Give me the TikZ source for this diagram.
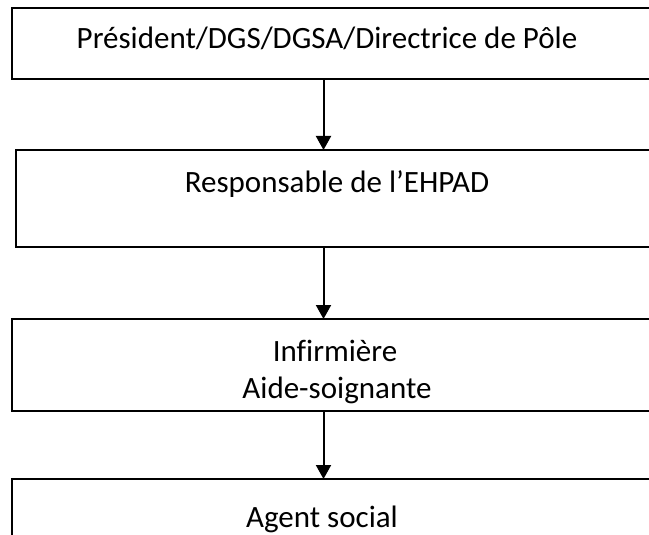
\documentclass[tikz,border=0pt]{standalone}
\usepackage{fontspec}
\setmainfont{Carlito}[Ligatures={NoCommon}]
\usetikzlibrary{arrows.meta}
\tikzset{
  box/.style={draw=black, line width=2pt, rectangle, inner sep=0pt, outer sep=0pt, anchor=north west, minimum width=700pt},
  lbl/.style={anchor=base, inner sep=0pt, font=\fontsize{31}{38}\selectfont},
  arr/.style={draw=black, line width=2pt, -{Triangle[length=14pt,width=15pt]}}
}
\begin{document}
\begin{tikzpicture}[x=1pt,y=-1pt]
\useasboundingbox (0,0) rectangle (649,535);
\clip (0,0) rectangle (649,535);
\fill[white] (0,0) rectangle (649,535);
\node[box, minimum height=71pt] (b1) at (12,8) {};
\node[box, minimum height=97pt] (b2) at (16,150) {};
\node[box, minimum height=92pt] (b3) at (12,319) {};
\node[box, minimum height=120pt] (b4) at (12,479) {};
\coordinate (ax) at (323.5,0);
\node[lbl] (t1) at (327,49) {Président/DGS/DGSA/Directrice de Pôle};
\node[lbl] (t2) at (337,193) {Responsable de l’EHPAD};
\node[lbl] (t3a) at (335,361) {Infirmière};
\node[lbl] (t3b) at (337,398) {Aide-soignante};
\node[lbl] (t4) at (322,527) {Agent social};
\draw[arr] (b1.south -| ax) -- (b2.north -| ax);
\draw[arr] (b2.south -| ax) -- (b3.north -| ax);
\draw[arr] (b3.south -| ax) -- (b4.north -| ax);
\end{tikzpicture}
\end{document}
